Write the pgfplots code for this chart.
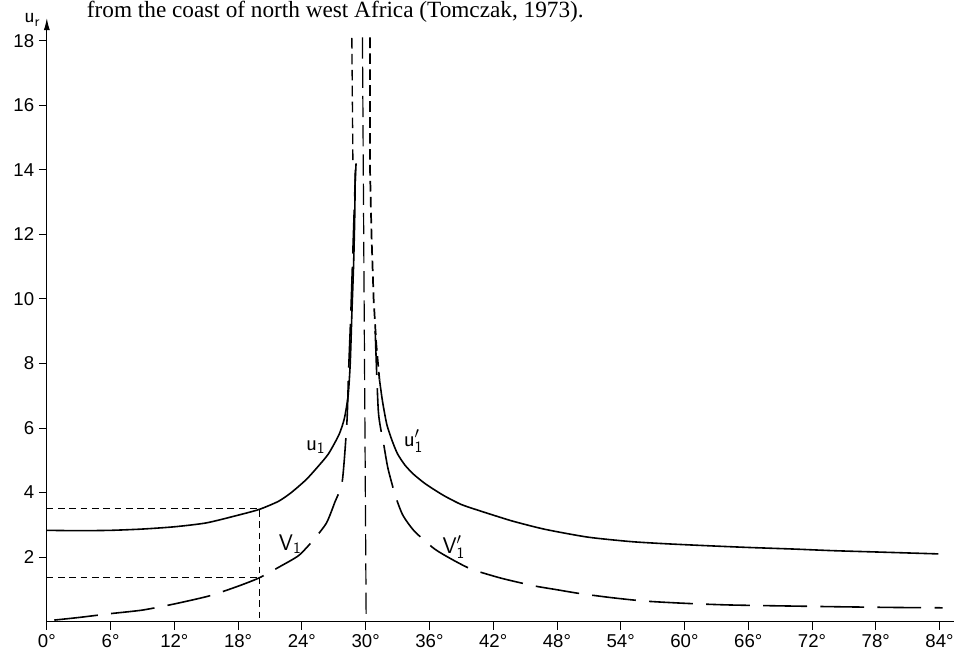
\documentclass[border=0pt]{standalone}
\usepackage{fontspec}
\setmainfont{Liberation Serif}
\newfontfamily\tickfont{Liberation Sans}
\usepackage{pgfplots}
\pgfplotsset{compat=1.18}
\usetikzlibrary{arrows.meta}
\begin{document}
\begin{tikzpicture}
\begin{axis}[
  x=8pt, y=24.3pt,
  xmin=0, xmax=85.4, ymin=0, ymax=18.7,
  axis y line=left, axis x line*=bottom,
  axis line style={line width=0.8pt},
  every outer y axis line/.append style={-{Latex[length=9pt,width=4.5pt]}},
  xtick={0,6,...,84},
  xticklabels={0°,6°,12°,18°,24°,30°,36°,42°,48°,54°,60°,66°,72°,78°,84°},
  ytick={2,4,...,18},
  tick align=outside, major tick length=6pt,
  tick style={line width=0.6pt, black},
  ticklabel style={font=\tickfont\fontsize{14}{16}\selectfont},
  /pgf/number format/assume math mode=true,
  clip=false,
]
% helper lines
\addplot[black, line width=0.6pt, dash pattern=on 5pt off 3.5pt] coordinates {(0,3.52) (20,3.52) (20,0)};
\addplot[black, line width=0.6pt, dash pattern=on 5pt off 3.5pt] coordinates {(0,1.37) (20,1.37)};
% u1 solid
\addplot[black, line width=1.2pt, smooth, tension=0.4] coordinates {
(0,2.83) (3,2.82) (6,2.83) (9,2.87) (12,2.94) (15,3.06) (18,3.3) (20,3.48) (21.8,3.73) (23,4.0) (24.4,4.4) (25.5,4.8) (26.5,5.2) (27.5,5.8) (28.0,6.3) (28.35,7.0) (28.55,8.0) (28.7,9.5) (28.87,11.1) (28.97,12.5) (29.03,14.0)};
% u1 upward short dashes
\addplot[black, line width=1.0pt, dash pattern=on 8pt off 4pt] coordinates {(28.8,14.3) (28.7,18.1)};
% central long dash
\addplot[black, line width=0.9pt, dash pattern=on 16pt off 6pt] coordinates {(29.7,18.1) (30.05,0)};
% v1 long dash
\addplot[black, line width=1.2pt, smooth, tension=0.4, dash pattern=on 33pt off 10pt] coordinates {
(0.7,0.05) (3,0.13) (6,0.25) (9,0.36) (12,0.55) (15.3,0.8) (18,1.1) (20,1.36) (22,1.72) (23.7,2.05) (25,2.5) (26.3,3.05) (27.1,3.7) (27.8,4.35) (28.24,6.2) (28.4,7.8) (28.6,9.5) (28.8,11.5) (29.0,13.5) (29.1,14.2)};
% u1' upper dashed part
\addplot[black, line width=1.3pt, dash pattern=on 8pt off 4pt] coordinates {
(30.4,18.1) (30.4,14.2) (30.55,12) (30.75,10) (31.0,8.6) (31.3,7.5)};
% u1' solid
\addplot[black, line width=1.2pt, smooth, tension=0.4] coordinates {
(31.3,7.5) (31.6,6.8) (32,6.1) (32.5,5.6) (33,5.2) (33.7,4.85) (34.5,4.57) (35.5,4.3) (36.5,4.08) (37.5,3.88) (39,3.63) (40.6,3.45) (42.5,3.25) (44,3.1) (46.9,2.86) (50.9,2.62) (55,2.48) (58.5,2.41) (62.4,2.35) (66,2.3) (70.3,2.25) (74,2.2) (78,2.16) (83.9,2.1)};
% v1' long dash
\addplot[black, line width=1.2pt, smooth, tension=0.4, dash pattern=on 33pt off 10pt] coordinates {
(30.9,9.0) (31.2,6.5) (31.7,5.5) (32.1,4.75) (32.8,3.9) (33.5,3.3) (34.6,2.8) (36.5,2.25) (38.4,1.88) (40,1.62) (42.5,1.37) (44.1,1.24) (46,1.1) (48,0.99) (50,0.88) (53,0.75) (56.2,0.64) (60,0.57) (64,0.52) (69,0.49) (75,0.46) (80,0.44) (84.3,0.43)};
% curve labels
\node[font=\fontsize{17}{19}\selectfont] at (axis cs:25.3,5.4) {$\mathsf{u}_{\mathsf{1}}$};
\node[font=\fontsize{17}{19}\selectfont] at (axis cs:34.5,5.6) {$\mathsf{u}_{\mathsf{1}}'$};
\node[font=\fontsize{17}{19}\selectfont] at (axis cs:22.9,2.4) {$\mathsf{V}_{\mathsf{1}}$};
\node[font=\fontsize{17}{19}\selectfont] at (axis cs:38.3,2.3) {$\mathsf{V}_{\mathsf{1}}'$};
\end{axis}
\node[font=\fontsize{16}{18}\selectfont] at (-11pt,453pt) {$\mathsf{u}_{\mathsf{r}}$};
\node[anchor=base west, font=\fontsize{17.5}{20}\selectfont, inner sep=0pt] at (30pt,455pt) {from the coast of north west Africa (Tomczak, 1973).};
\path[use as bounding box] (-35.25pt,-28.5pt) rectangle (683.25pt,468pt);
\end{tikzpicture}
\end{document}
